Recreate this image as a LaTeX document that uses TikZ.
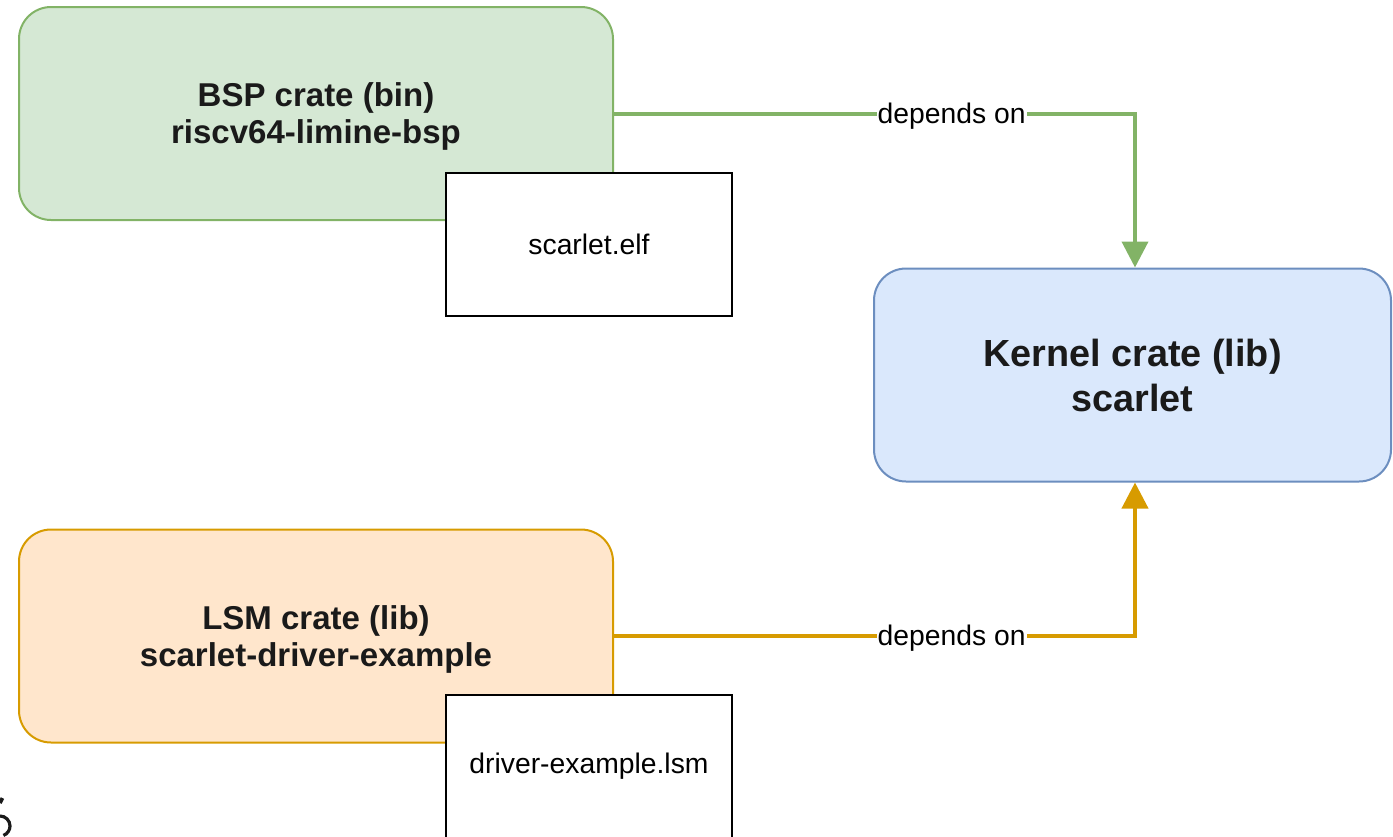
\documentclass[tikz,border=0pt]{standalone}
\usepackage{fontspec}
\setmainfont{Liberation Sans}
\usetikzlibrary{arrows.meta}
\definecolor{greenfill}{HTML}{D5E8D4}
\definecolor{greenline}{HTML}{82B366}
\definecolor{bluefill}{HTML}{DAE8FC}
\definecolor{blueline}{HTML}{6C8EBF}
\definecolor{orangefill}{HTML}{FFE6CC}
\definecolor{orangeline}{HTML}{D79B00}
\definecolor{darktext}{HTML}{1A1A1A}
\begin{document}
\begin{tikzpicture}[x=0.5pt,y=-0.5pt,
  crate/.style={rectangle,rounded corners=16pt,line width=1pt,inner sep=0pt,
    minimum width=297pt,minimum height=106.5pt,align=center,text=darktext,
    text depth=0pt,font=\fontsize{16.5}{18.5}\selectfont\bfseries},
  artifact/.style={rectangle,draw=black,fill=white,line width=1pt,inner sep=0pt,
    minimum width=143pt,minimum height=71.5pt,align=center,
    font=\fontsize{14.15}{17}\selectfont},
  dep/.style={line width=2pt,-{Triangle[width=13pt,length=13pt]}},
  deplabel/.style={fill=white,inner sep=0.5pt,yshift=-1.3pt,
    font=\fontsize{14.15}{17}\selectfont}]
\useasboundingbox (0,0) rectangle (1393,836);
\clip (0,0) rectangle (1393,836);

% kernel library crate
\node[crate,draw=blueline,fill=bluefill,minimum width=258.5pt,
  font=\fontsize{18.9}{22.6}\selectfont\bfseries] (kernel) at (1132.5,375)
  {Kernel crate (lib)\\scarlet};
\coordinate (ktop) at ([xshift=1.25pt]kernel.north);
\coordinate (kbot) at ([xshift=1.25pt]kernel.south);

% board support crate and its binary
\node[crate,draw=greenline,fill=greenfill] (bsp) at (316,113.5)
  {BSP crate (bin)\\riscv64-limine-bsp};
\node[artifact] (elf) at (589,244.5) {scarlet.elf};

% loadable module crate and its output
\node[crate,draw=orangeline,fill=orangefill] (lsm) at (316,636)
  {LSM crate (lib)\\scarlet-driver-example};
\node[artifact] (lsmfile) at (589,766.5) {driver-example.lsm};

% dependency edges
\draw[dep,draw=greenline] (bsp.east) -| (ktop)
  node[deplabel,pos=0.324] {depends on};
\draw[dep,draw=orangeline] (lsm.east) -| (kbot)
  node[deplabel,pos=0.324] {depends on};

% stray glyph at the lower left edge
\draw[draw=darktext,line width=1.6pt] (0,816) arc[start angle=-90,end angle=70,radius=10];
\draw[draw=darktext,line width=1.8pt] (0,803) -- (2.5,798);
\end{tikzpicture}
\end{document}
